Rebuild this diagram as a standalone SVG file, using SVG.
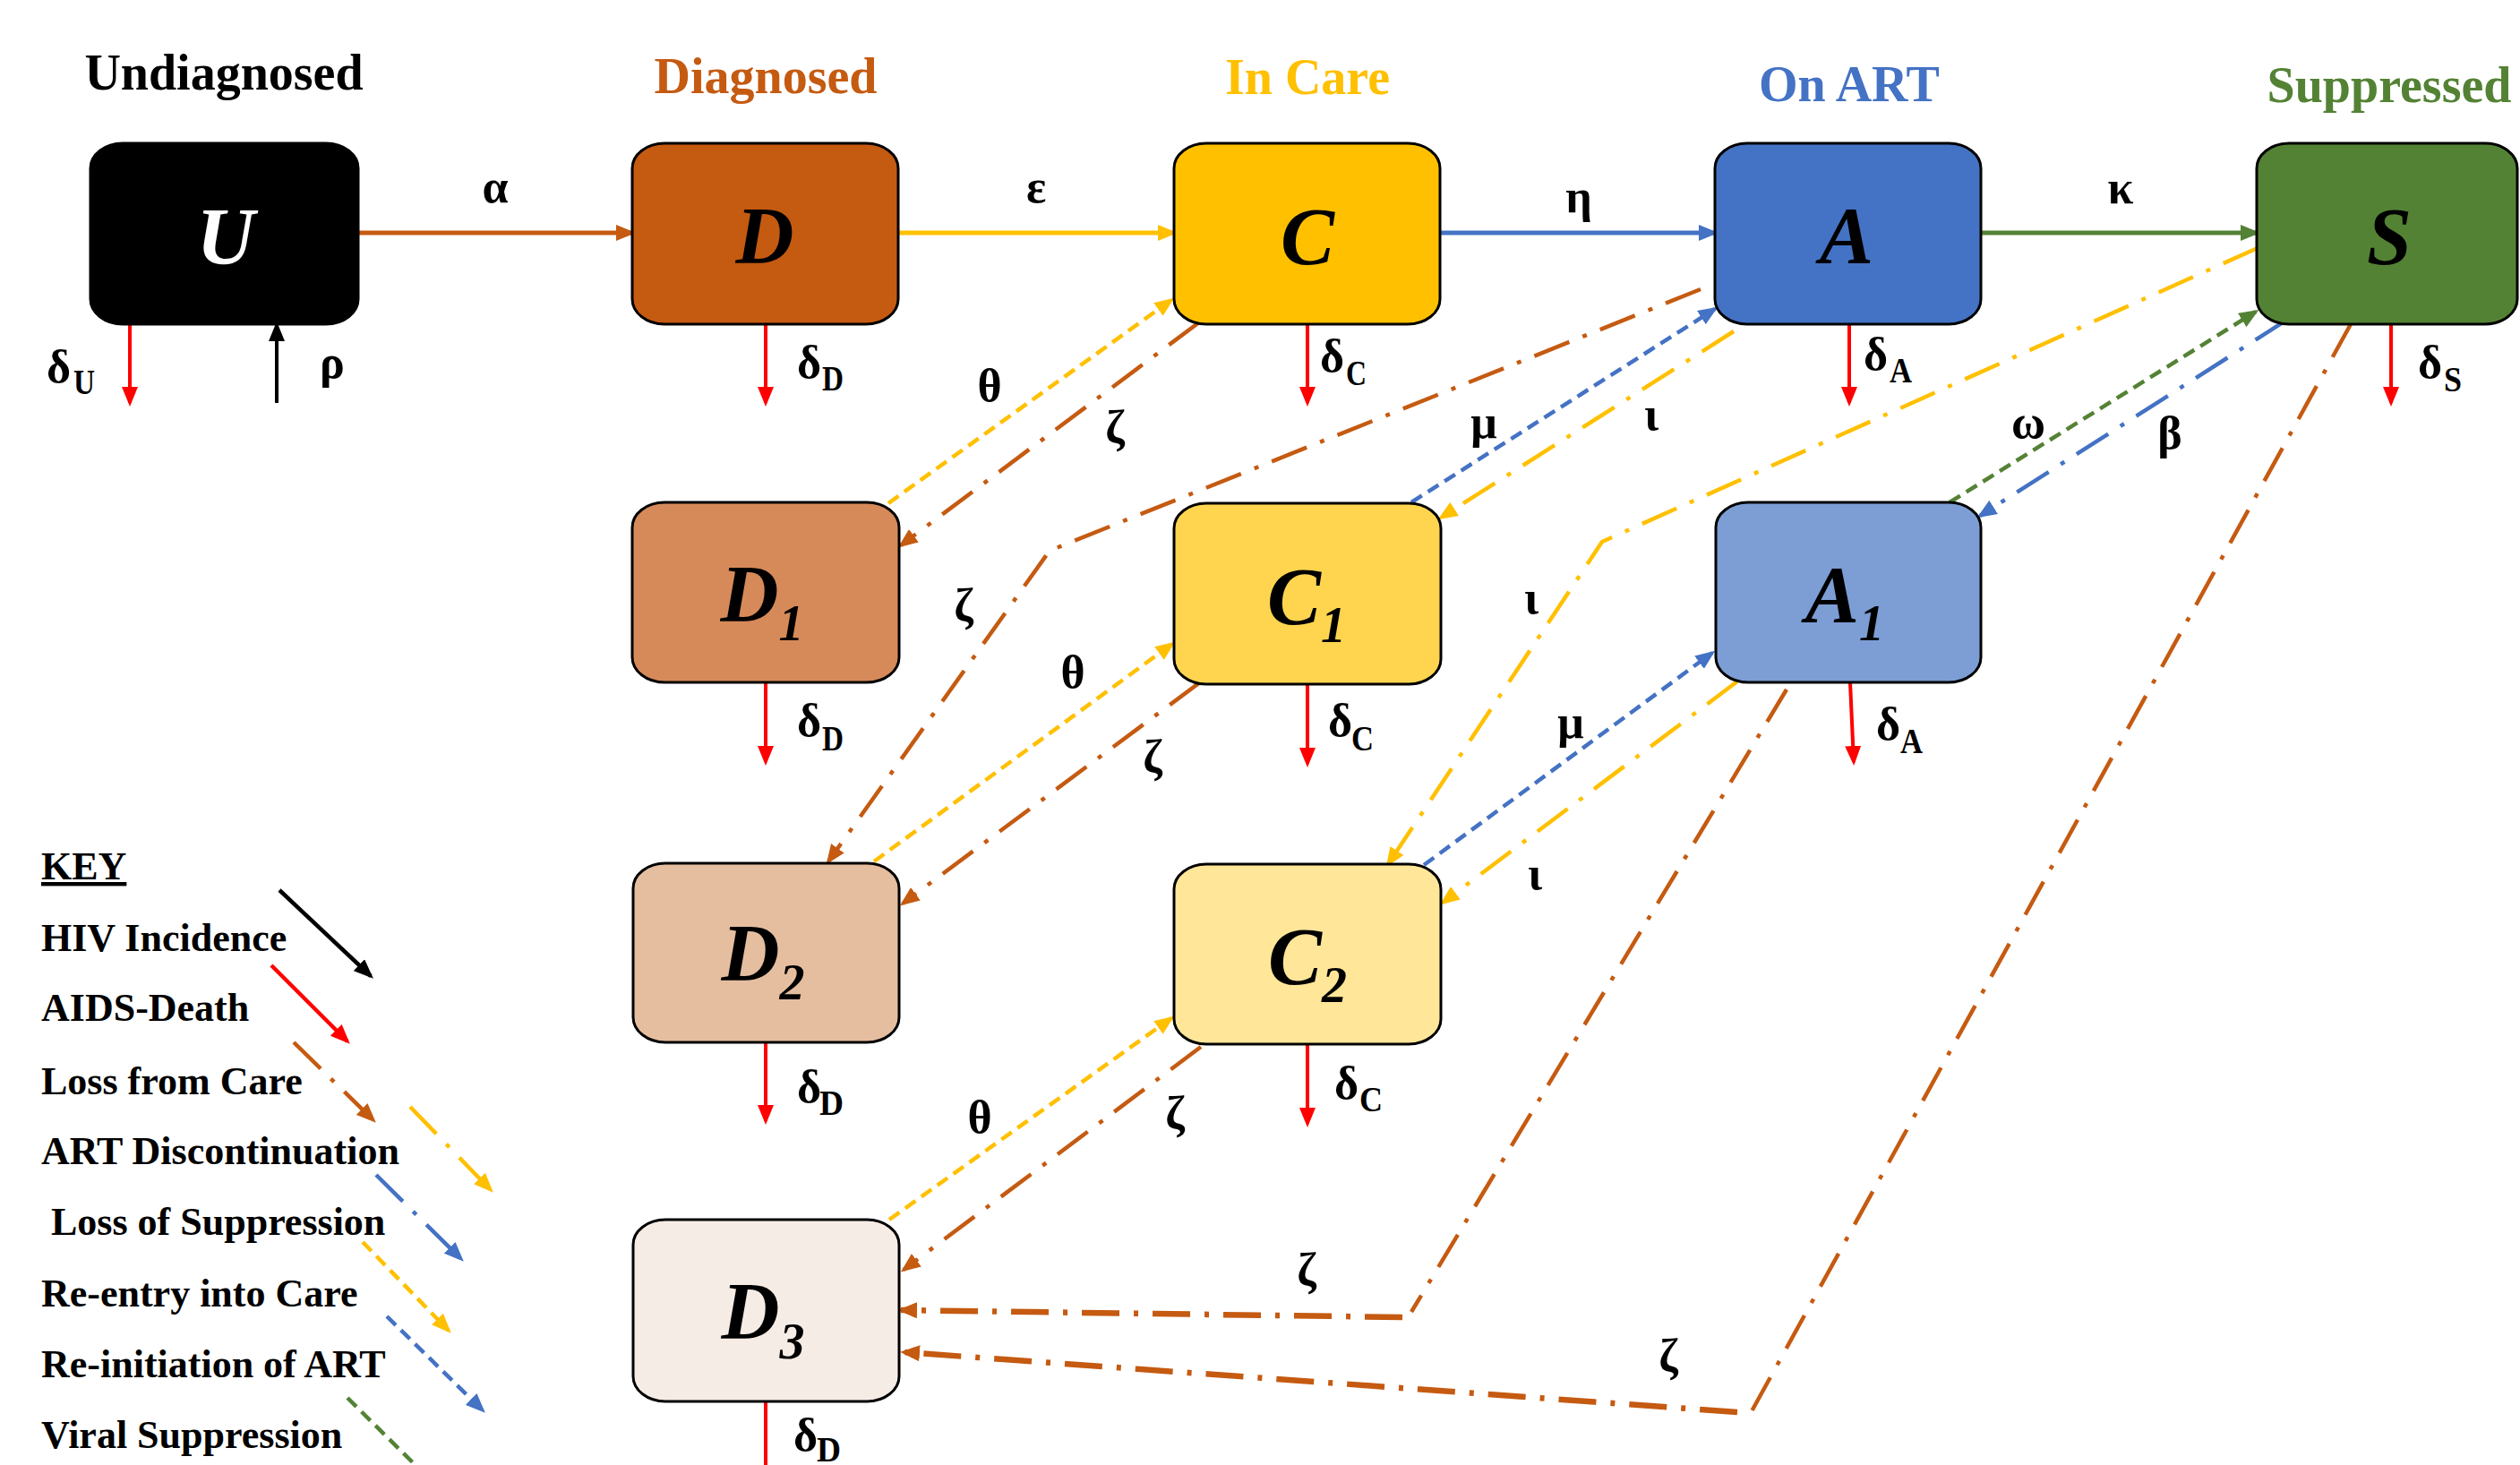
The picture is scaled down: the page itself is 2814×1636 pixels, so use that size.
<svg xmlns="http://www.w3.org/2000/svg" width="2814" height="1636" viewBox="0 0 2814 1636">
<style>
.bx{stroke:#000;stroke-width:3}
.nl{font-family:"Liberation Serif","Times New Roman",serif;font-weight:bold;font-style:italic;font-size:90px;text-anchor:middle;fill:#000}
.ns{font-size:56px}
.tt{font-family:"Liberation Serif","Times New Roman",serif;font-weight:bold;font-size:56px;text-anchor:middle}
.lb{font-family:"Liberation Serif","Times New Roman",serif;font-weight:bold;font-size:52px;text-anchor:middle;fill:#000}
.dl{font-family:"Liberation Serif","Times New Roman",serif;font-weight:bold;font-size:52px;fill:#000}
.sb{font-family:"Liberation Serif","Times New Roman",serif;font-weight:bold;font-size:40px;fill:#000}
.ky{font-family:"Liberation Serif","Times New Roman",serif;font-weight:bold;font-size:44px;fill:#000}
.ln{fill:none}
.solid{stroke-width:5}
.death{stroke:#FF0000;stroke-width:4;fill:none}
.dsh{stroke-dasharray:14 8;stroke-width:4.5;fill:none}
.dd{stroke-dasharray:42 16 5 16;stroke-width:4.5;fill:none}
.ddt{stroke-dasharray:42 16 5 16;stroke-width:6.5;fill:none}
.or{stroke:#C55A11}.ye{stroke:#FFC000}.bl{stroke:#4472C4}.gr{stroke:#548235}.bk{stroke:#000}
</style>
<defs>
<marker id="mO" markerUnits="userSpaceOnUse" viewBox="0 0 22 18" markerWidth="22" markerHeight="18" refX="18" refY="9" orient="auto"><path d="M0,0 L22,9 L0,18 z" fill="#C55A11"/></marker>
<marker id="mY" markerUnits="userSpaceOnUse" viewBox="0 0 22 18" markerWidth="22" markerHeight="18" refX="18" refY="9" orient="auto"><path d="M0,0 L22,9 L0,18 z" fill="#FFC000"/></marker>
<marker id="mB" markerUnits="userSpaceOnUse" viewBox="0 0 22 18" markerWidth="22" markerHeight="18" refX="18" refY="9" orient="auto"><path d="M0,0 L22,9 L0,18 z" fill="#4472C4"/></marker>
<marker id="mG" markerUnits="userSpaceOnUse" viewBox="0 0 22 18" markerWidth="22" markerHeight="18" refX="18" refY="9" orient="auto"><path d="M0,0 L22,9 L0,18 z" fill="#548235"/></marker>
<marker id="mR" markerUnits="userSpaceOnUse" viewBox="0 0 22 18" markerWidth="22" markerHeight="18" refX="18" refY="9" orient="auto"><path d="M0,0 L22,9 L0,18 z" fill="#FF0000"/></marker>
<marker id="mK" markerUnits="userSpaceOnUse" viewBox="0 0 22 18" markerWidth="22" markerHeight="18" refX="18" refY="9" orient="auto"><path d="M0,0 L22,9 L0,18 z" fill="#000000"/></marker>
</defs>
<rect width="2814" height="1636" fill="#FFFFFF"/>

<g id="titles">
<text class="tt" x="250" y="100" fill="#000000">Undiagnosed</text>
<text class="tt" x="855" y="104" fill="#C55A11">Diagnosed</text>
<text class="tt" x="1460" y="105" fill="#FFC000">In Care</text>
<text class="tt" x="2065" y="113" fill="#4472C4">On ART</text>
<text class="tt" x="2668" y="114" fill="#548235">Suppressed</text>
</g>

<g id="connectors">
<path class="solid or" d="M400,260 H706" marker-end="url(#mO)"/>
<path class="solid ye" d="M1003,260 H1311" marker-end="url(#mY)"/>
<path class="solid bl" d="M1608,260 H1915" marker-end="url(#mB)"/>
<path class="solid gr" d="M2212,260 H2520" marker-end="url(#mG)"/>
<path class="death" d="M145,363 V450" marker-end="url(#mR)"/>
<path class="ln bk" stroke-width="4" d="M309,450 V363" marker-end="url(#mK)"/>
<path class="death" d="M855,362 V450" marker-end="url(#mR)"/>
<path class="death" d="M1460,362 V450" marker-end="url(#mR)"/>
<path class="death" d="M2065,362 V450" marker-end="url(#mR)"/>
<path class="death" d="M2670,362 V450" marker-end="url(#mR)"/>
<path class="death" d="M855,762 V851" marker-end="url(#mR)"/>
<path class="death" d="M1460,764 V853" marker-end="url(#mR)"/>
<path class="death" d="M2066,762 L2070,851" marker-end="url(#mR)"/>
<path class="death" d="M855,1164 V1252" marker-end="url(#mR)"/>
<path class="death" d="M1460,1166 V1255" marker-end="url(#mR)"/>
<path class="death" d="M855,1565 V1660" marker-end="url(#mR)"/>

<path class="dsh ye" d="M992,562 L1308,335" marker-end="url(#mY)"/>
<path class="dd or" d="M1339,360 L1006,609" marker-end="url(#mO)"/>
<path class="dd or" d="M1899,323 L1172,615 L925,962" marker-end="url(#mO)"/>
<path class="dsh bl" d="M1576,561 L1915,345" marker-end="url(#mB)"/>
<path class="dd ye" d="M1936,370 L1609,578" marker-end="url(#mY)"/>
<path class="dd ye" d="M2521,277 L1789,605 L1550,965" marker-end="url(#mY)"/>
<path class="dsh gr" d="M2177,561 L2519,348" marker-end="url(#mG)"/>
<path class="dd bl" d="M2554,357 L2211,576" marker-end="url(#mB)"/>
<path class="dsh ye" d="M976,962 L1309,719" marker-end="url(#mY)"/>
<path class="dd or" d="M1340,762 L1008,1009" marker-end="url(#mO)"/>
<path class="dsh bl" d="M1590,966 L1912,729" marker-end="url(#mB)"/>
<path class="dd ye" d="M1940,761 L1611,1008" marker-end="url(#mY)"/>
<path class="dsh ye" d="M993,1362 L1308,1137" marker-end="url(#mY)"/>
<path class="dd or" d="M1341,1169 L1009,1418" marker-end="url(#mO)"/>
<path class="dd or" d="M1995,770 L1576,1465"/>
<path class="ddt or" d="M1566,1471 L1006,1463" marker-end="url(#mO)"/>
<path class="dd or" d="M2625,362 L1956,1576"/>
<path class="ddt or" d="M1940,1577 L1009,1510" marker-end="url(#mO)"/>
</g>

<g id="node-U"><rect class="bx" x="101" y="160" width="299" height="202" rx="36" ry="28" fill="#000000"/><text class="nl" x="252" y="295" fill="#FFFFFF" style="fill:#FFFFFF">U</text></g>
<g id="node-D"><rect class="bx" x="706" y="160" width="297" height="202" rx="36" ry="28" fill="#C55A11"/><text class="nl" x="854" y="294">D</text></g>
<g id="node-C"><rect class="bx" x="1311" y="160" width="297" height="202" rx="36" ry="28" fill="#FFC000"/><text class="nl" x="1460" y="295">C</text></g>
<g id="node-A"><rect class="bx" x="1915" y="160" width="297" height="202" rx="36" ry="28" fill="#4472C4"/><text class="nl" x="2062" y="294">A</text></g>
<g id="node-S"><rect class="bx" x="2520" y="160" width="291" height="202" rx="36" ry="28" fill="#548235"/><text class="nl" x="2668" y="295">S</text></g>
<g id="node-D1"><rect class="bx" x="706" y="561" width="298" height="201" rx="36" ry="28" fill="#D68A5A"/><text class="nl" x="851" y="694">D<tspan class="ns" dy="21">1</tspan></text></g>
<g id="node-C1"><rect class="bx" x="1311" y="562" width="298" height="202" rx="36" ry="28" fill="#FFD54F"/><text class="nl" x="1459" y="697">C<tspan class="ns" dy="20">1</tspan></text></g>
<g id="node-A1"><rect class="bx" x="1916" y="561" width="296" height="201" rx="36" ry="28" fill="#7D9DD5"/><text class="nl" x="2060" y="695">A<tspan class="ns" dy="20">1</tspan></text></g>
<g id="node-D2"><rect class="bx" x="707" y="964" width="297" height="200" rx="36" ry="28" fill="#E5BEA0"/><text class="nl" x="852" y="1095">D<tspan class="ns" dy="21">2</tspan></text></g>
<g id="node-C2"><rect class="bx" x="1311" y="965" width="298" height="201" rx="36" ry="28" fill="#FFE699"/><text class="nl" x="1460" y="1099">C<tspan class="ns" dy="20">2</tspan></text></g>
<g id="node-D3"><rect class="bx" x="707" y="1362" width="297" height="203" rx="36" ry="28" fill="#F6ECE6"/><text class="nl" x="852" y="1495">D<tspan class="ns" dy="22">3</tspan></text></g>

<g id="labels">
<text class="lb" x="553" y="226">α</text>
<text class="lb" x="1157" y="226">ε</text>
<text class="lb" x="1763" y="237">η</text>
<text class="lb" x="2368" y="227">κ</text>
<text class="lb" x="1105" y="448">θ</text>
<text class="lb" x="1245" y="494">ζ</text>
<text class="lb" x="1076" y="693">ζ</text>
<text class="lb" x="1657" y="489">μ</text>
<text class="lb" x="1844" y="480">ι</text>
<text class="lb" x="1710" y="685">ι</text>
<text class="lb" x="2265" y="489">ω</text>
<text class="lb" x="2423" y="501">β</text>
<text class="lb" x="1198" y="768">θ</text>
<text class="lb" x="1287" y="862">ζ</text>
<text class="lb" x="1754" y="824">μ</text>
<text class="lb" x="1714" y="993">ι</text>
<text class="lb" x="1094" y="1265">θ</text>
<text class="lb" x="1312" y="1260">ζ</text>
<text class="lb" x="1459" y="1435">ζ</text>
<text class="lb" x="1863" y="1531">ζ</text>
<text class="dl" x="357" y="422">ρ</text>
<text class="dl" x="52" y="427">δ</text><text class="sb" x="82" y="440" textLength="24" lengthAdjust="spacingAndGlyphs">U</text>
<text class="dl" x="890" y="422">δ</text><text class="sb" x="918" y="436" textLength="24" lengthAdjust="spacingAndGlyphs">D</text>
<text class="dl" x="1474" y="415">δ</text><text class="sb" x="1503" y="430" textLength="23" lengthAdjust="spacingAndGlyphs">C</text>
<text class="dl" x="2081" y="413">δ</text><text class="sb" x="2110" y="427" textLength="25" lengthAdjust="spacingAndGlyphs">A</text>
<text class="dl" x="2700" y="422">δ</text><text class="sb" x="2729" y="437" textLength="20" lengthAdjust="spacingAndGlyphs">S</text>
<text class="dl" x="890" y="822">δ</text><text class="sb" x="918" y="838" textLength="24" lengthAdjust="spacingAndGlyphs">D</text>
<text class="dl" x="1483" y="822">δ</text><text class="sb" x="1509" y="838" textLength="25" lengthAdjust="spacingAndGlyphs">C</text>
<text class="dl" x="2095" y="826">δ</text><text class="sb" x="2122" y="841" textLength="25" lengthAdjust="spacingAndGlyphs">A</text>
<text class="dl" x="890" y="1231">δ</text><text class="sb" x="915" y="1245" textLength="27" lengthAdjust="spacingAndGlyphs">D</text>
<text class="dl" x="1490" y="1227">δ</text><text class="sb" x="1518" y="1241" textLength="26" lengthAdjust="spacingAndGlyphs">C</text>
<text class="dl" x="886" y="1620">δ</text><text class="sb" x="912" y="1632" textLength="27" lengthAdjust="spacingAndGlyphs">D</text>
</g>

<g id="key">
<text class="ky" x="46" y="982" text-decoration="underline">KEY</text>
<text class="ky" x="46" y="1062">HIV Incidence</text>
<text class="ky" x="46" y="1140">AIDS-Death</text>
<text class="ky" x="46" y="1222">Loss from Care</text>
<text class="ky" x="46" y="1300">ART Discontinuation</text>
<text class="ky" x="57" y="1379">Loss of Suppression</text>
<text class="ky" x="46" y="1459">Re-entry into Care</text>
<text class="ky" x="46" y="1538">Re-initiation of ART</text>
<text class="ky" x="46" y="1617">Viral Suppression</text>
<path class="ln bk" stroke-width="4.5" d="M312,994 L414,1090" marker-end="url(#mK)"/>
<path class="ln" stroke="#FF0000" stroke-width="4.5" d="M303,1078 L388,1163" marker-end="url(#mR)"/>
<path class="dd or" d="M328,1164 L417,1251" marker-end="url(#mO)"/>
<path class="dd ye" d="M458,1236 L548,1329" marker-end="url(#mY)"/>
<path class="dd bl" d="M420,1312 L515,1406" marker-end="url(#mB)"/>
<path class="dsh ye" d="M405,1387 L501,1486" marker-end="url(#mY)"/>
<path class="dsh bl" d="M432,1470 L539,1575" marker-end="url(#mB)"/>
<path class="dsh gr" d="M388,1561 L490,1662" marker-end="url(#mG)"/>
</g>
</svg>
